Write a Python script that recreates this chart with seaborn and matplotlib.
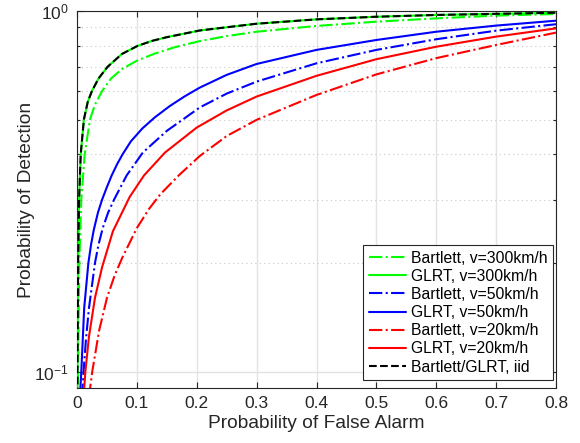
import numpy as np
import pandas as pd
import matplotlib
matplotlib.use("Agg")
import matplotlib.pyplot as plt
import seaborn as sns
from matplotlib.ticker import NullFormatter, FixedLocator

# ---- data ----
iid_x = [0.0004, 0.0008, 0.0018, 0.0035, 0.0062, 0.0115, 0.018, 0.025, 0.036, 0.051, 0.075, 0.101, 0.125, 0.15, 0.205, 0.3, 0.4, 0.5, 0.6, 0.7, 0.8]
iid_y = [0.08, 0.1, 0.2, 0.3, 0.4, 0.5, 0.56, 0.6, 0.65, 0.7, 0.76, 0.8, 0.826, 0.846, 0.883, 0.922, 0.948, 0.964, 0.975, 0.982, 0.989]

glrt300_x = [0.0004, 0.0008, 0.0018, 0.0035, 0.0062, 0.0115, 0.018, 0.025, 0.036, 0.051, 0.075, 0.101, 0.125, 0.15, 0.205, 0.3, 0.4, 0.5, 0.6, 0.7, 0.8]
glrt300_y = [0.08, 0.1, 0.2, 0.3, 0.4, 0.5, 0.56, 0.6, 0.65, 0.7, 0.76, 0.8, 0.826, 0.846, 0.883, 0.922, 0.948, 0.964, 0.975, 0.982, 0.989]

bart300_x = [0.0008, 0.0017, 0.0039, 0.0072, 0.0128, 0.0217, 0.03, 0.042, 0.057, 0.075, 0.1, 0.13, 0.165, 0.205, 0.25, 0.3, 0.4, 0.5, 0.6, 0.7, 0.8]
bart300_y = [0.08, 0.1, 0.2, 0.3, 0.4, 0.5, 0.55, 0.6, 0.65, 0.69, 0.728, 0.762, 0.795, 0.825, 0.852, 0.876, 0.909, 0.934, 0.954, 0.971, 0.981]

glrt50_x = [0.0048, 0.0072, 0.012, 0.019, 0.0235, 0.028, 0.035, 0.042, 0.05, 0.058, 0.067, 0.076, 0.09, 0.109, 0.13, 0.155, 0.18, 0.205, 0.25, 0.3, 0.4, 0.5, 0.6, 0.7, 0.8]
glrt50_y = [0.085, 0.1, 0.15, 0.2, 0.225, 0.247, 0.276, 0.3, 0.325, 0.35, 0.376, 0.4, 0.435, 0.472, 0.507, 0.545, 0.58, 0.613, 0.665, 0.713, 0.78, 0.831, 0.876, 0.911, 0.94]

bart50_x = [0.0085, 0.011, 0.015, 0.02, 0.03, 0.036, 0.043, 0.052, 0.062, 0.083, 0.11, 0.15, 0.205, 0.25, 0.3, 0.4, 0.5, 0.6, 0.7, 0.8]
bart50_y = [0.085, 0.1, 0.123, 0.15, 0.2, 0.225, 0.25, 0.276, 0.3, 0.35, 0.405, 0.465, 0.54, 0.59, 0.637, 0.716, 0.78, 0.835, 0.882, 0.919]

glrt20_x = [0.011, 0.014, 0.02, 0.03, 0.042, 0.06, 0.088, 0.112, 0.147, 0.2, 0.25, 0.3, 0.4, 0.5, 0.6, 0.7, 0.8]
glrt20_y = [0.085, 0.1, 0.125, 0.16, 0.195, 0.245, 0.305, 0.35, 0.405, 0.475, 0.53, 0.579, 0.661, 0.735, 0.796, 0.849, 0.895]

bart20_x = [0.02, 0.0255, 0.037, 0.05, 0.063, 0.0757, 0.1, 0.12, 0.139, 0.17, 0.205, 0.25, 0.3, 0.4, 0.5, 0.6, 0.7, 0.8]
bart20_y = [0.085, 0.1, 0.13, 0.16, 0.185, 0.207, 0.25, 0.282, 0.31, 0.35, 0.396, 0.45, 0.499, 0.585, 0.667, 0.74, 0.805, 0.871]

labels = ["Bartlett, v=300km/h", "GLRT, v=300km/h", "Bartlett, v=50km/h",
          "GLRT, v=50km/h", "Bartlett, v=20km/h", "GLRT, v=20km/h",
          "Bartlett/GLRT, iid"]
xticks = [0, 0.1, 0.2, 0.3, 0.4, 0.5, 0.6, 0.7, 0.8]
xticklabels = ["0", "0.1", "0.2", "0.3", "0.4", "0.5", "0.6", "0.7", "0.8"]

series = [
    (bart300_x, bart300_y, "#00ff00", "-."),
    (glrt300_x, glrt300_y, "#00ff00", "-"),
    (bart50_x, bart50_y, "#0000ff", "-."),
    (glrt50_x, glrt50_y, "#0000ff", "-"),
    (bart20_x, bart20_y, "#ff0000", "-."),
    (glrt20_x, glrt20_y, "#ff0000", "-"),
    (iid_x, iid_y, "#000000", "--"),
]

sns.set_theme(style="white")
plt.rcParams["font.family"] = ["Liberation Sans", "DejaVu Sans"]
plt.rcParams["mathtext.fontset"] = "custom"
plt.rcParams["mathtext.rm"] = "Liberation Sans"
plt.rcParams["mathtext.it"] = "Liberation Sans:italic"
plt.rcParams["mathtext.bf"] = "Liberation Sans:bold"

dark = "#262626"
fig = plt.figure(figsize=(5.8, 4.43), dpi=100)
ax = fig.add_axes([77/580, 1-388/443, (556-77)/580, (388-11)/443])

for (xs, ys, c, ls), lab in zip(series, labels):
    df = pd.DataFrame({"x": xs, "y": ys})
    sns.lineplot(data=df, x="x", y="y", ax=ax, color=c, linestyle=ls,
                 linewidth=1.5, label=lab, sort=False, estimator=None, zorder=3)

ax.set_yscale("log")
ax.set_xlim(0, 0.8)
ax.set_ylim(0.09, 1.0)
ax.set_xticks(xticks)
ax.set_xticklabels(xticklabels)
ax.yaxis.set_major_locator(FixedLocator([0.1, 1.0]))
ax.yaxis.set_minor_locator(FixedLocator([0.2, 0.3, 0.4, 0.5, 0.6, 0.7, 0.8, 0.9]))
ax.yaxis.set_minor_formatter(NullFormatter())
ax.set_yticklabels([r"$10^{-1}$", r"$10^{0}$"])

ax.grid(True, which="major", axis="both", color="#e3e3e3", linewidth=1.0, linestyle="-", zorder=0)
ax.grid(True, which="minor", axis="y", color="#c8c8c8", linewidth=0.8, linestyle=(0, (1, 3)), zorder=0)
ax.set_axisbelow(True)

for s in ax.spines.values():
    s.set_color(dark)
    s.set_linewidth(0.8)
    s.set_visible(True)

ax.tick_params(axis="both", which="major", direction="in", length=4, width=0.8,
               color=dark, labelcolor=dark, labelsize=12.5, top=True, right=True,
               bottom=True, left=True, pad=6)
ax.tick_params(axis="y", which="minor", direction="in", length=2.5, width=0.8,
               color=dark, left=True, right=True)

ax.set_xlabel("Probability of False Alarm", fontsize=13.8, color=dark, labelpad=3)
ax.set_ylabel("Probability of Detection", fontsize=13.8, color=dark, labelpad=-1)

leg = ax.legend(loc="lower right", bbox_to_anchor=(553/580, 1-380/443),
                bbox_transform=fig.transFigure, borderaxespad=0,
                fontsize=11.3, frameon=True, fancybox=False, framealpha=1,
                edgecolor=dark, handlelength=2.4, handletextpad=0.3,
                labelspacing=0.2, borderpad=0.35)
leg.get_frame().set_linewidth(0.8)
for t in leg.get_texts():
    t.set_color("black")

fig.savefig("out.png", dpi=100)
